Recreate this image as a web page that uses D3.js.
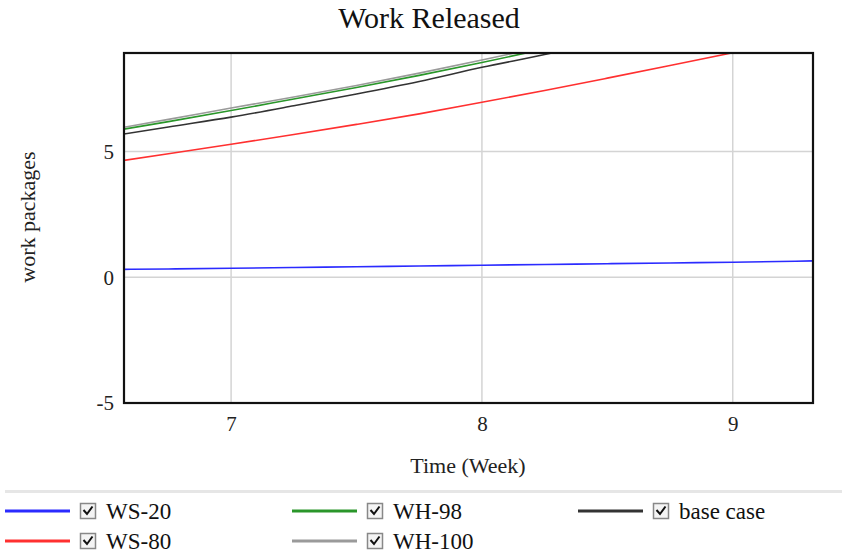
<!DOCTYPE html>
<html>
<head>
<meta charset="utf-8">
<script src="https://cdn.jsdelivr.net/npm/d3@7"></script>
<style>
  html, body { margin: 0; padding: 0; background: #fff; }
  svg { display: block; }
</style>
</head>
<body>
<svg id="chart" width="842" height="556"></svg>
<script>
// Simulation output: work released (work packages) by week, per scenario
const weeks = [6.5, 6.75, 7, 7.25, 7.5, 7.75, 8, 8.25, 8.5, 8.75, 9, 9.25, 9.5];

const ws20   = [0.31, 0.33, 0.36, 0.39, 0.42, 0.45, 0.48, 0.51, 0.54, 0.57, 0.60, 0.64, 0.69];
const ws80   = [4.54, 4.91, 5.29, 5.68, 6.08, 6.50, 6.96, 7.43, 7.92, 8.42, 8.93, 9.45, 9.98];
const wh98   = [5.77, 6.19, 6.63, 7.09, 7.55, 8.03, 8.54, 9.08, 9.65, 10.2, 10.8, 11.4, 12.0];
const wh100  = [5.84, 6.28, 6.73, 7.17, 7.63, 8.12, 8.64, 9.18, 9.75, 10.3, 10.9, 11.5, 12.1];
const base   = [5.58, 5.98, 6.37, 6.82, 7.29, 7.79, 8.35, 8.86, 9.42, 10.0, 10.6, 11.2, 11.8];

const seriesNames  = ["WS-20", "WS-80", "WH-98", "WH-100", "base case"];
const seriesValues = [ws20, ws80, wh98, wh100, base];
const seriesColors = ["#2b2bff", "#ff3030", "#2a962a", "#9a9a9a", "#333333"];

const xTicks = [7, 8, 9];
const yTicks = [-5, 0, 5];

const svg = d3.select("#chart");
const serif = "'Liberation Serif', 'Times New Roman', serif";

const plot = { left: 124, right: 813, top: 53, bottom: 403 };

const x = d3.scaleLinear().domain([6.573, 9.32]).range([plot.left, plot.right]);
const y = d3.scaleLinear().domain([-5, 8.92]).range([plot.bottom, plot.top]);

// Title
svg.append("text")
  .attr("x", 429).attr("y", 28)
  .attr("text-anchor", "middle")
  .attr("font-family", serif).attr("font-size", 30)
  .attr("fill", "#111")
  .text("Work Released");

// Grid lines
const grid = svg.append("g");
grid.selectAll("line.gx").data(xTicks).join("line")
  .attr("x1", d => x(d)).attr("x2", d => x(d))
  .attr("y1", plot.top).attr("y2", plot.bottom)
  .attr("stroke", "#d4d4d4").attr("stroke-width", 1.5);
grid.selectAll("line.gy").data(yTicks.filter(v => v > -5)).join("line")
  .attr("x1", plot.left).attr("x2", plot.right)
  .attr("y1", d => y(d)).attr("y2", d => y(d))
  .attr("stroke", "#d4d4d4").attr("stroke-width", 1.5);

// Axes (labels only; the frame is drawn separately)
const fmt = d => String(d);
const xAxis = svg.append("g")
  .attr("transform", `translate(0,${plot.bottom})`)
  .call(d3.axisBottom(x).tickValues(xTicks).tickSize(0).tickPadding(13).tickFormat(fmt));
xAxis.select(".domain").remove();
xAxis.selectAll("text").attr("font-family", serif).attr("font-size", 21).attr("fill", "#222");

const yAxis = svg.append("g")
  .attr("transform", `translate(${plot.left},0)`)
  .call(d3.axisLeft(y).tickValues(yTicks).tickSize(0).tickPadding(10).tickFormat(fmt));
yAxis.select(".domain").remove();
yAxis.selectAll("text").attr("font-family", serif).attr("font-size", 21).attr("fill", "#222");

// Axis titles
svg.append("text")
  .attr("transform", `translate(35,${217}) rotate(-90)`)
  .attr("text-anchor", "middle")
  .attr("font-family", serif).attr("font-size", 22).attr("fill", "#222")
  .text("work packages");

svg.append("text")
  .attr("x", 468).attr("y", 473)
  .attr("text-anchor", "middle")
  .attr("font-family", serif).attr("font-size", 22).attr("fill", "#222")
  .text("Time (Week)");

// Series lines, clipped to the plot area
svg.append("defs").append("clipPath").attr("id", "plotClip")
  .append("rect")
  .attr("x", plot.left).attr("y", plot.top)
  .attr("width", plot.right - plot.left).attr("height", plot.bottom - plot.top);

const line = d3.line()
  .x(d => x(d[0]))
  .y(d => y(d[1]))
  .curve(d3.curveMonotoneX);

const drawOrder = [0, 1, 3, 2, 4];
svg.append("g").attr("clip-path", "url(#plotClip)")
  .selectAll("path")
  .data(drawOrder)
  .join("path")
  .attr("d", i => line(weeks.map((w, k) => [w, seriesValues[i][k]])))
  .attr("fill", "none")
  .attr("stroke", i => seriesColors[i])
  .attr("stroke-width", 1.6);

// Plot frame
svg.append("rect")
  .attr("x", plot.left).attr("y", plot.top)
  .attr("width", plot.right - plot.left).attr("height", plot.bottom - plot.top)
  .attr("fill", "none").attr("stroke", "#111").attr("stroke-width", 2.2);

// Legend separator
svg.append("rect")
  .attr("x", 5).attr("y", 490).attr("width", 837).attr("height", 3)
  .attr("fill", "#e6e6e6");

// Legend
const legendPos = [
  { cx: 5, cy: 511 }, { cx: 5, cy: 541 },
  { cx: 292, cy: 511 }, { cx: 292, cy: 541 },
  { cx: 578, cy: 511 }
];
const legend = svg.append("g");
const items = legend.selectAll("g").data(seriesNames).join("g")
  .attr("transform", (d, i) => `translate(${legendPos[i].cx},${legendPos[i].cy})`);

items.append("line")
  .attr("x1", 0).attr("x2", 65).attr("y1", 0).attr("y2", 0)
  .attr("stroke", (d, i) => seriesColors[i]).attr("stroke-width", 3);

items.append("rect")
  .attr("x", 75.5).attr("y", -7.5).attr("width", 15).attr("height", 15)
  .attr("fill", "#f4f4f4").attr("stroke", "#888").attr("stroke-width", 1.5);

items.append("path")
  .attr("d", "M78.5,-1 L82,3 L87.5,-4.5")
  .attr("fill", "none").attr("stroke", "#111").attr("stroke-width", 2);

items.append("text")
  .attr("x", 101).attr("y", 7.5)
  .attr("font-family", serif).attr("font-size", 23).attr("fill", "#111")
  .text(d => d);
</script>
</body>
</html>
